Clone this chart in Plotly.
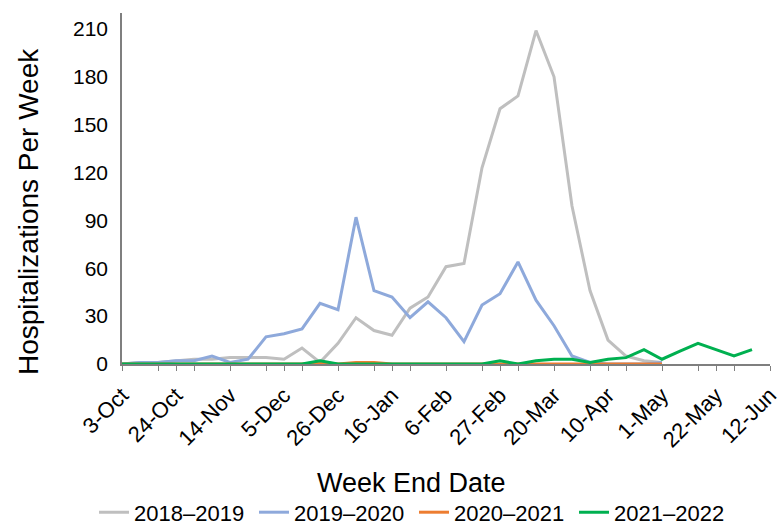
import plotly.graph_objects as go

WEEKS = ["3-Oct", "10-Oct", "17-Oct", "24-Oct", "31-Oct", "7-Nov", "14-Nov", "21-Nov",
         "28-Nov", "5-Dec", "12-Dec", "19-Dec", "26-Dec", "2-Jan", "9-Jan", "16-Jan",
         "23-Jan", "30-Jan", "6-Feb", "13-Feb", "20-Feb", "27-Feb", "6-Mar", "13-Mar",
         "20-Mar", "27-Mar", "3-Apr", "10-Apr", "17-Apr", "24-Apr", "1-May", "8-May",
         "15-May", "22-May", "29-May", "5-Jun", "12-Jun"]

S_2018_2019 = [0, 1, 1, 2, 3, 3, 4, 4, 4, 3, 10, 1, 13, 29, 21, 18, 35, 42, 61, 63,
               123, 160, 168, 209, 180, 99, 46, 15, 5, 2, 1]
S_2019_2020 = [0, 1, 1, 2, 2, 5, 1, 3, 17, 19, 22, 38, 34, 92, 46, 42, 29, 39, 29, 14,
               37, 44, 64, 40, 24, 5, 1, 0, 0, 0, 1]
S_2020_2021 = [0, 0, 0, 0, 0, 0, 0, 0, 0, 0, 0, 1, 0, 1, 1, 0, 0, 0, 0, 0,
               0, 0, 0, 0, 0, 0, 0, 0, 0, 0, 0]
S_2021_2022 = [0, 0, 0, 0, 0, 0, 0, 0, 0, 0, 0, 2, 0, 0, 0, 0, 0, 0, 0, 0,
               0, 2, 0, 2, 3, 3, 1, 3, 4, 9, 3, 8, 13, 9, 5, 9]

SERIES = [
    ("2018–2019", S_2018_2019, "#BFBFBF"),
    ("2019–2020", S_2019_2020, "#8EA9DB"),
    ("2020–2021", S_2020_2021, "#ED7D31"),
    ("2021–2022", S_2021_2022, "#00B050"),
]

Y_TICKS = [0, 30, 60, 90, 120, 150, 180, 210]
LABEL_IDX = list(range(0, len(WEEKS), 3))
MINOR_IDX = list(range(0, len(WEEKS), 2))

FONT = "Liberation Sans, Arial, sans-serif"

fig = go.Figure()
for name, vals, color in SERIES:
    fig.add_trace(go.Scatter(
        x=list(range(len(vals))), y=vals, name=name, mode="lines",
        line=dict(color=color, width=3), cliponaxis=False,
    ))

fig.update_layout(
    width=777, height=525,
    margin=dict(l=122, r=7, t=13, b=161, autoexpand=False),
    paper_bgcolor="white", plot_bgcolor="white",
    font=dict(family=FONT, color="#000000", size=20),
    showlegend=True,
    legend=dict(orientation="h", xref="container", x=0.121, xanchor="left",
                yref="container", y=0.024, yanchor="middle",
                font=dict(size=22, family=FONT), itemwidth=30, traceorder="normal",
                entrywidth=115, entrywidthmode="pixels"),
    annotations=[
        dict(text="Week End Date", xref="paper", yref="paper", x=0.4475, y=-0.339,
             xanchor="center", yanchor="middle", showarrow=False,
             font=dict(size=27, family=FONT)),
        dict(text="Hospitalizations Per Week", xref="paper", yref="paper",
             x=-0.145, y=0.433, xanchor="center", yanchor="middle", textangle=-90,
             showarrow=False, font=dict(size=28, family=FONT)),
    ],
)

fig.update_xaxes(
    range=[0, len(WEEKS) - 1], automargin=False,
    tickmode="array", tickvals=LABEL_IDX, ticktext=[WEEKS[i] for i in LABEL_IDX],
    tickangle=-45, tickfont=dict(size=22), ticklabeloverflow="allow", ticklabelstandoff=3,
    ticks="outside", ticklen=5, tickcolor="#7F7F7F", tickwidth=1,
    minor=dict(tickmode="array", tickvals=MINOR_IDX, ticks="outside", ticklen=5,
               tickcolor="#7F7F7F", tickwidth=1),
    showline=True, linecolor="#7F7F7F", linewidth=1.5,
    showgrid=False, zeroline=False,
)
fig.update_yaxes(
    range=[0, 220], automargin=False, tickmode="array", tickvals=Y_TICKS,
    tickfont=dict(size=21), ticks="", ticklabelstandoff=8,
    showline=True, linecolor="#7F7F7F", linewidth=1.5,
    showgrid=False, zeroline=False,
)

fig.write_html("out.html", config={"displayModeBar": False},
               post_script="document.body.style.margin='0';document.body.style.overflow='hidden';")
